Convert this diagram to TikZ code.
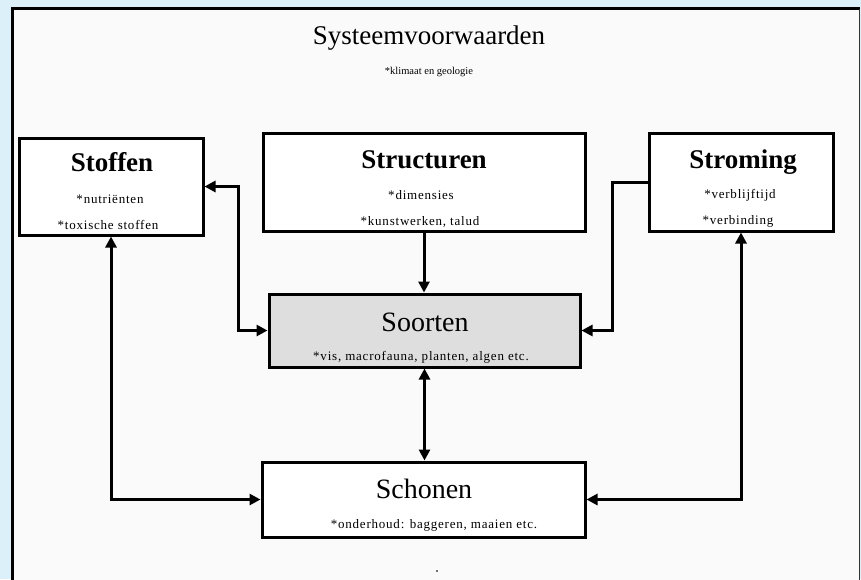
\documentclass[tikz,border=0pt]{standalone}
\usepackage{fontspec}
\setmainfont{Liberation Serif}
\usetikzlibrary{arrows.meta}
\definecolor{bgblue}{RGB}{220,240,250}
\definecolor{panel}{RGB}{250,250,250}
\definecolor{soortfill}{RGB}{222,222,222}
\tikzset{
  box/.style={draw=black, line width=3pt, fill=white, inner sep=0pt, minimum width=#1},
  hd/.style={font=\fontsize{27}{30}\selectfont\bfseries, inner sep=0pt},
  hdr/.style={font=\fontsize{28}{30}\selectfont, inner sep=0pt},
  sub/.style={font=\fontsize{13}{15}\selectfont\addfontfeature{LetterSpace=6}, inner sep=0pt},
  conn/.style={line width=3pt, black},
  tip/.style={-{Triangle[length=11pt,width=11pt]}},
  tips/.style={{Triangle[length=11pt,width=11pt]}-{Triangle[length=11pt,width=11pt]}},
}
\begin{document}
\begin{tikzpicture}[x=1pt,y=-1pt]
\useasboundingbox (0,0) rectangle (861,579);
\clip (0,0) rectangle (861,579);
\fill[bgblue] (0,0) rectangle (861,579);
\fill[panel] (12.5,8.5) rectangle (860,600);
\draw[line width=3pt] (12.5,600) -- (12.5,8.5) -- (860,8.5);
\draw[line width=1.5pt, black!80] (859.5,8.5) -- (859.5,600);

% title
\node[font=\fontsize{27}{30}\selectfont, inner sep=0pt] (title) at (429,38) {Systeemvoorwaarden};
\node[font=\fontsize{10.5}{12}\selectfont, inner sep=0pt] (titlesub) at (429,72) {*klimaat en geologie};

% boxes
\node[box=184pt, minimum height=97pt] (stoffen) at (111,186.5) {};
\node[box=322pt, minimum height=98pt] (structuren) at (424,182) {};
\node[box=184pt, minimum height=98pt] (stroming) at (741,182) {};
\node[box=311pt, minimum height=73pt, fill=soortfill] (soorten) at (424.5,330.5) {};
\node[box=323pt, minimum height=75pt] (schonen) at (423.5,499.5) {};

% box texts
\node[hd] (stoffenT) at (112,162) {Stoffen};
\node[sub] (stoffenA) at (110,199) {*nutriënten};
\node[sub] (stoffenB) at (108,225) {*toxische stoffen};

\node[hd] (structurenT) at (424,160) {Structuren};
\node[sub] (structurenA) at (421,195) {*dimensies};
\node[sub] (structurenB) at (420,222) {*kunstwerken, talud};

\node[hd] (stromingT) at (743,162) {Stroming};
\node[sub] (stromingA) at (740,195) {*verblijftijd};
\node[sub] (stromingB) at (738,221) {*verbinding};

\node[hdr] (soortenT) at (425,322) {Soorten};
\node[sub] (soortenA) at (421,357) {*vis, macrofauna, planten, algen etc.};

\node[hdr] (schonenT) at (424,489) {Schonen};
\node[sub] (schonenA) at (434,525) {*onderhoud: baggeren, maaien etc.};

\node[fill=black!55, inner sep=0pt, minimum size=2.5pt] (dot) at (437,571) {};

% connectors
\draw[conn, tip] (structuren.south) -- (structuren.south |- soorten.north);
\draw[conn, tips] (soorten.south) -- (soorten.south |- schonen.north);
\draw[conn, tips] (stoffen.east) -- ++(34,0) |- (soorten.west);
\draw[conn, tip] (stroming.west) -- ++(-35,0) |- (soorten.east);
\draw[conn, tips] (stoffen.south) |- (schonen.west);
\draw[conn, tips] (stroming.south) |- (schonen.east);
\end{tikzpicture}
\end{document}
